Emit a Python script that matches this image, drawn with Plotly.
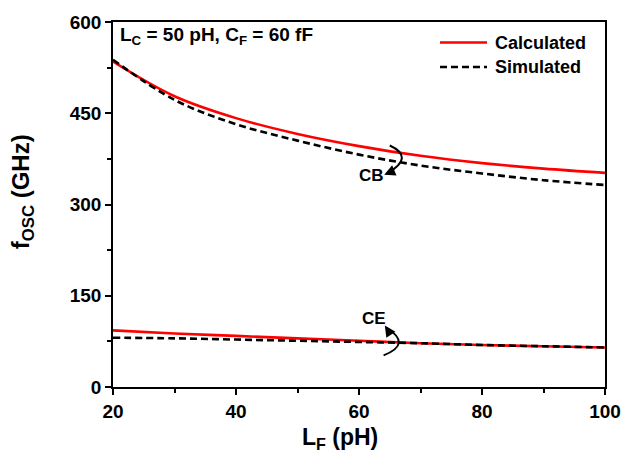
import plotly.graph_objects as go

# Feedback inductance L_F (pH)
lf = [20, 30, 40, 50, 60, 70, 80, 90, 100]

# Oscillation frequency (GHz), common-base branch
cb_calc = [535, 478, 442, 416, 396, 380, 368, 359, 352]
cb_sim = [538, 472, 432, 405, 382, 364, 351, 340, 332]

# Oscillation frequency (GHz), common-emitter branch
ce_calc = [93, 88, 84, 80, 76, 72, 69, 67, 65]
ce_sim = [81, 80, 78, 76, 74, 72, 69, 67, 65]

x_ticks = [20, 40, 60, 80, 100]
y_ticks = [0, 150, 300, 450, 600]

FONT = "Liberation Sans, Arial, sans-serif"
RED = "#ff0000"
CALC_LINE = dict(color=RED, width=2.6, shape="spline")
SIM_LINE = dict(color="black", width=2.6, dash="7px,4px", shape="spline")

fig = go.Figure()

for ys in (cb_calc, ce_calc):
    fig.add_trace(go.Scatter(x=lf, y=ys, mode="lines", name="Calculated",
                             line=CALC_LINE, showlegend=False))
for ys in (cb_sim, ce_sim):
    fig.add_trace(go.Scatter(x=lf, y=ys, mode="lines", name="Simulated",
                             line=SIM_LINE, showlegend=False))

# Legend: line samples with bold labels, top-right inside the frame
legend_rows = [("Calculated", dict(color=RED, width=2.6), 0.9437),
               ("Simulated", dict(color="black", width=2.6, dash="7px,4px"), 0.8767)]
for label, style, yp in legend_rows:
    fig.add_shape(type="line", xref="paper", yref="paper",
                  x0=0.6646, x1=0.7602, y0=yp, y1=yp, line=style)
    fig.add_annotation(x=0.7724, y=yp, xref="paper", yref="paper",
                       xanchor="left", yanchor="middle", showarrow=False,
                       text=f"<b>{label}</b>",
                       font=dict(family=FONT, size=18, color="black"))

# Curved pointers labelling the two branches
fig.add_shape(type="path", xref="x", yref="y",
              path="M 65.0,397 Q 69.1,378 64.7,352",
              line=dict(color="black", width=2))
fig.add_shape(type="path", xref="x", yref="y",
              path="M 64.5,97 Q 68.7,71 64.0,52",
              line=dict(color="black", width=2))

fig.add_annotation(x=64.1, y=349, ax=7, ay=-3, xref="x", yref="y",
                   showarrow=True, arrowhead=2, arrowsize=1.1, arrowwidth=2,
                   arrowcolor="black", text="")
fig.add_annotation(x=64.2, y=101, ax=4, ay=6, xref="x", yref="y",
                   showarrow=True, arrowhead=2, arrowsize=1.1, arrowwidth=2,
                   arrowcolor="black", text="")

fig.add_annotation(x=62.0, y=347, xref="x", yref="y", showarrow=False,
                   text="<b>CB</b>", font=dict(family=FONT, size=17, color="black"))
fig.add_annotation(x=62.4, y=113, xref="x", yref="y", showarrow=False,
                   text="<b>CE</b>", font=dict(family=FONT, size=17, color="black"))

fig.add_annotation(x=0.01, y=1.0, xref="paper", yref="paper",
                   xanchor="left", yanchor="top", showarrow=False,
                   text="<b>L<sub>C</sub> = 50 pH, C<sub>F</sub> = 60 fF</b>",
                   font=dict(family=FONT, size=19, color="black"))

# Axis titles
fig.add_annotation(x=0.461, y=-0.142, xref="paper", yref="paper",
                   xanchor="center", yanchor="middle", showarrow=False,
                   text="<b>L<sub>F</sub> (pH)</b>",
                   font=dict(family=FONT, size=23, color="black"))
fig.add_annotation(x=-0.185, y=0.536, xref="paper", yref="paper",
                   xanchor="center", yanchor="middle", showarrow=False, textangle=-90,
                   text="<b>f<sub>OSC</sub> (GHz)</b>",
                   font=dict(family=FONT, size=24, color="black"))

fig.update_layout(
    width=639, height=472,
    margin=dict(l=113, r=34, t=14, b=85),
    paper_bgcolor="white", plot_bgcolor="white",
    font=dict(family=FONT, color="black"),
    showlegend=False,
)

fig.update_xaxes(
    range=[20, 100], tickvals=x_ticks,
    ticktext=[f"<b>{v}</b>" for v in x_ticks],
    ticks="outside", ticklen=6, tickwidth=1.5, tickcolor="black",
    minor=dict(tickvals=[30, 50, 70, 90], ticks="outside", ticklen=4,
               tickwidth=1.5, tickcolor="black"),
    showline=True, linecolor="black", linewidth=1.5, mirror=True,
    showgrid=False, zeroline=False,
    tickfont=dict(family=FONT, size=19, color="black"),
)
fig.update_yaxes(
    range=[0, 600], tickvals=y_ticks,
    ticktext=[f"<b>{v}</b>" for v in y_ticks],
    ticks="outside", ticklen=6, tickwidth=1.5, tickcolor="black",
    minor=dict(tickvals=[75, 225, 375, 525], ticks="outside", ticklen=4,
               tickwidth=1.5, tickcolor="black"),
    showline=True, linecolor="black", linewidth=1.5, mirror=True,
    showgrid=False, zeroline=False,
    tickfont=dict(family=FONT, size=19, color="black"),
)

fig.write_html("out.html")
